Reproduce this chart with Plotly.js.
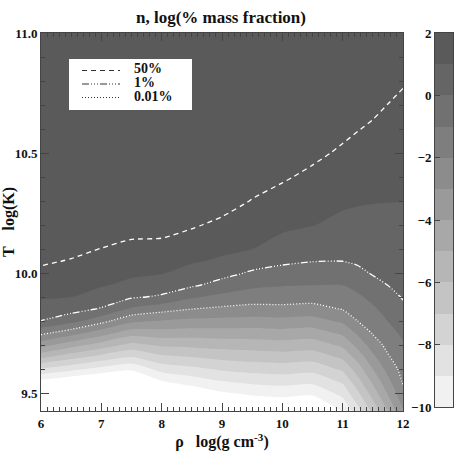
<!DOCTYPE html>
<html>
<head>
<meta charset="utf-8">
<script src="https://cdn.plot.ly/plotly-3.0.1.min.js"></script>
<style>
  html, body { margin: 0; padding: 0; background: #fff; }
  #chart { width: 458px; height: 458px; }
</style>
</head>
<body>
<div id="chart"></div>
<script>
// density grid, log(g cm^-3)
const rho = [6, 6.5, 7, 7.5, 8, 8.5, 9, 9.5, 10, 10.5, 11, 11.25, 11.5, 11.75, 12];
// temperature grid, log(K)
const logT = [9.4, 9.45, 9.5, 9.55, 9.6, 9.65, 9.7, 9.75, 9.8, 9.85, 9.9, 9.95,
              10.0, 10.05, 10.1, 10.2, 10.3, 10.4, 10.5, 10.6, 10.7, 10.8, 10.9, 11.0];
// neutron log(% mass fraction), one row per logT value, one column per rho value
const logFrac = [
  [-14, -14, -14.5, -14.5, -14.5, -14, -13.5, -13, -12.5, -12.5, -10.33, -8.83, -7.17, -5.38, -3.38],
  [-13, -13, -13.5, -13.5, -13.5, -13, -12.5, -10.84, -10.7, -10.84, -9.5, -7.99, -6.33, -4.62, -2.8],
  [-12, -12, -12.5, -12.5, -12, -10.75, -10.11, -9.79, -9.64, -9.79, -8.67, -7.17, -5.54, -3.88, -2.3],
  [-10.2, -10.8, -11.23, -11.54, -10.03, -9.5, -8.98, -8.72, -8.58, -8.72, -7.8, -6.33, -4.77, -3.25, -1.89],
  [-8.14, -8.71, -9.31, -9.79, -8.61, -8.25, -7.84, -7.64, -7.53, -7.66, -6.8, -5.5, -3.99, -2.67, -1.63],
  [-5.77, -6.64, -7.38, -8.04, -7.22, -6.99, -6.73, -6.57, -6.47, -6.6, -5.8, -4.6, -3.23, -2.11, -1.37],
  [-3.6, -4.58, -5.46, -6.31, -5.83, -5.75, -5.59, -5.51, -5.42, -5.53, -4.8, -3.67, -2.53, -1.71, -1.11],
  [-1.74, -2.58, -3.54, -4.55, -4.44, -4.5, -4.45, -4.45, -4.36, -4.47, -3.8, -2.83, -1.92, -1.36, -0.81],
  [-0.02, -0.67, -1.67, -2.79, -3.06, -3.25, -3.32, -3.38, -3.31, -3.4, -2.82, -1.99, -1.54, -0.99, -0.49],
  [0.62, 0.38, -0.09, -1.16, -1.63, -1.99, -2.18, -2.32, -2.26, -2.34, -1.95, -1.58, -1.15, -0.66, -0.17],
  [1.09, 1.01, 0.61, 0.13, -0.14, -0.875, -1.26, -1.5, -1.54, -1.6, -1.48, -1.17, -0.73, -0.31, 0.06],
  [1.33, 1.22, 1.08, 0.8, 0.53, 0.16, -0.36, -0.8, -0.94, -0.99, -0.99, -0.7, -0.27, 0.01, 0.18],
  [1.56, 1.44, 1.28, 1.14, 1.05, 0.68, 0.33, -0.13, -0.35, -0.47, -0.5, -0.2, 0.07, 0.16, 0.3],
  [1.79, 1.66, 1.48, 1.34, 1.27, 1.09, 0.89, 0.44, 0.18, 0.03, 0.01, 0.12, 0.23, 0.3, 0.42],
  [1.85, 1.86, 1.687, 1.54, 1.5, 1.32, 1.16, 1.01, 0.64, 0.38, 0.26, 0.33, 0.4, 0.45, 0.54],
  [1.9, 1.9, 1.95, 1.94, 1.94, 1.77, 1.56, 1.33, 1.18, 1.03, 0.79, 0.73, 0.73, 0.74, 0.78],
  [1.92, 1.92, 1.95, 1.95, 1.95, 1.9, 1.96, 1.67, 1.48, 1.3, 1.14, 1.08, 1.04, 1.02, 1.01],
  [1.93, 1.93, 1.96, 1.96, 1.95, 1.93, 1.96, 1.97, 1.77, 1.57, 1.37, 1.29, 1.23, 1.19, 1.16],
  [1.94, 1.94, 1.96, 1.96, 1.96, 1.95, 1.97, 1.97, 1.92, 1.83, 1.61, 1.51, 1.43, 1.36, 1.31],
  [1.95, 1.95, 1.96, 1.96, 1.96, 1.96, 1.97, 1.97, 1.95, 1.92, 1.835, 1.72, 1.62, 1.53, 1.45],
  [1.96, 1.96, 1.97, 1.97, 1.97, 1.96, 1.97, 1.98, 1.96, 1.95, 1.92, 1.88, 1.82, 1.69, 1.6],
  [1.96, 1.96, 1.97, 1.97, 1.97, 1.97, 1.98, 1.98, 1.97, 1.96, 1.95, 1.93, 1.92, 1.9, 1.743],
  [1.97, 1.97, 1.97, 1.97, 1.98, 1.97, 1.98, 1.98, 1.97, 1.97, 1.96, 1.95, 1.95, 1.94, 1.88],
  [1.97, 1.97, 1.98, 1.98, 1.98, 1.98, 1.98, 1.98, 1.98, 1.98, 1.97, 1.96, 1.96, 1.96, 1.93]
];

// filled bands, one gray per unit step from -10 up to 2
const bandEdges = [-10, -9, -8, -7, -6, -5, -4, -3, -2, -1, 0, 1, 2];
const bandMids = [-9.5, -8.5, -7.5, -6.5, -5.5, -4.5, -3.5, -2.5, -1.5, -0.5, 0.5, 1.5];
const bandColors = ['#f1f1f1', '#e2e2e2', '#d3d3d3', '#c4c4c4', '#b6b6b6', '#a8a8a8',
                    '#9a9a9a', '#8c8c8c', '#7e7e7e', '#717171', '#656565', '#5a5a5a'];
const barTicks = [-10, -8, -6, -4, -2, 0, 2];

// white contour lines: 50%, 1%, 0.01%
const lineLevels = [1.699, 0, -2];
const lineNames = ['50%', '1%', '0.01%'];
const lineDashes = ['5px,4px', '7px,2px,1px,2px,1px,2px,1px,2px', '1px,2px'];

const W = 458, H = 458;
const px = x => x / W;
const py = y => 1 - y / H;

// colour scale: below -10 white, each band its own gray
const scale = [[0, '#ffffff']];
bandColors.forEach((c, i) => scale.push([(i + 0.5) / bandColors.length, c]));
scale.push([1, bandColors[bandColors.length - 1]]);

const smooth = 0.6;
const data = [
    {
        type: 'contour',
        x: rho, y: logT, z: logFrac,
        zmin: -10, zmax: 2,
        autocontour: false,
        contours: { coloring: 'fill', start: -10, end: 2, size: 1, showlines: false },
        line: { width: 0, smoothing: smooth },
        colorscale: scale,
        showscale: false,
        hoverinfo: 'skip'
    }
];

lineLevels.forEach((lv, i) => {
    data.push({
        type: 'contour',
        x: rho, y: logT, z: logFrac,
        autocontour: false,
        contours: { coloring: 'none', start: lv, end: lv, size: 1 },
        line: { color: 'white', width: 1.3, dash: lineDashes[i], smoothing: smooth },
        showscale: false,
        hoverinfo: 'skip',
        name: lineNames[i]
    });
});

// colour bar as its own small subplot
data.push({
    type: 'heatmap',
    x: [0, 1], y: bandEdges,
    z: bandMids.map(v => [v]),
    zmin: -10, zmax: 2,
    colorscale: scale,
    showscale: false,
    xaxis: 'x2', yaxis: 'y2',
    hoverinfo: 'skip'
});

// hand-made legend box (rows are tighter than plotly's legend allows)
const rowY = [70.5, 84, 97.5];
const shapes = [{
    type: 'rect', xref: 'paper', yref: 'paper',
    x0: px(69), x1: px(192), y0: py(110), y1: py(59),
    fillcolor: 'white', line: { width: 0 }
}];
const annotations = [];
lineNames.forEach((name, i) => {
    shapes.push({
        type: 'line', xref: 'paper', yref: 'paper',
        x0: px(82), x1: px(120), y0: py(rowY[i]), y1: py(rowY[i]),
        line: { color: '#333', width: 1.2, dash: lineDashes[i] }
    });
    annotations.push({
        text: name, xref: 'paper', yref: 'paper',
        x: px(132), y: py(rowY[i] - 1.5), xanchor: 'left', yanchor: 'middle',
        showarrow: false, font: { size: 14 }
    });
});

const axisLine = '#444';
const layout = {
    width: W, height: H,
    margin: { l: 0, r: 0, t: 0, b: 0 },
    paper_bgcolor: 'white',
    plot_bgcolor: 'white',
    showlegend: false,
    font: { family: 'Liberation Serif, Times New Roman, serif', size: 13, color: '#111', weight: 'bold' },
    title: {
        text: 'n, log(% mass fraction)',
        x: px(221), xanchor: 'center', y: py(17), yanchor: 'middle',
        font: { size: 17 }
    },
    xaxis: {
        domain: [px(41), px(403)],
        range: [6, 12], dtick: 1,
        ticks: 'inside', ticklen: 8, tickcolor: axisLine,
        minor: { dtick: 0.1, ticks: 'inside', ticklen: 4, tickcolor: axisLine },
        showline: true, linecolor: axisLine, mirror: 'allticks',
        showgrid: false, zeroline: false, automargin: false,
        title: { text: '\u00a0\u00a0\u00a0\u00a0ρ\u00a0\u00a0\u00a0log(g cm<sup>-3</sup>)', standoff: 4 }
    },
    yaxis: {
        domain: [py(411), py(33)],
        range: [9.425, 11], tick0: 9.5, dtick: 0.5, tickformat: '.1f',
        ticks: 'inside', ticklen: 8, tickcolor: axisLine,
        minor: { dtick: 0.1, ticks: 'inside', ticklen: 4, tickcolor: axisLine },
        showline: true, linecolor: axisLine, mirror: 'allticks',
        showgrid: false, zeroline: false, automargin: false,
        title: { text: 'T\u00a0\u00a0\u00a0\u00a0log(K)\u00a0\u00a0\u00a0\u00a0\u00a0\u00a0', standoff: 4 }
    },
    xaxis2: {
        domain: [px(435), px(453)], anchor: 'y2',
        range: [0, 1], showticklabels: false, ticks: '',
        showline: true, linecolor: axisLine, mirror: true,
        showgrid: false, zeroline: false
    },
    yaxis2: {
        domain: [py(407), py(33)], anchor: 'x2', side: 'left',
        range: [-10, 2], tickvals: barTicks,
        ticks: 'inside', ticklen: 5, tickcolor: axisLine,
        showline: true, linecolor: axisLine, mirror: true,
        showgrid: false, zeroline: false
    },
    shapes: shapes,
    annotations: annotations
};

Plotly.newPlot('chart', data, layout, { displayModeBar: false, staticPlot: true });
</script>
</body>
</html>
